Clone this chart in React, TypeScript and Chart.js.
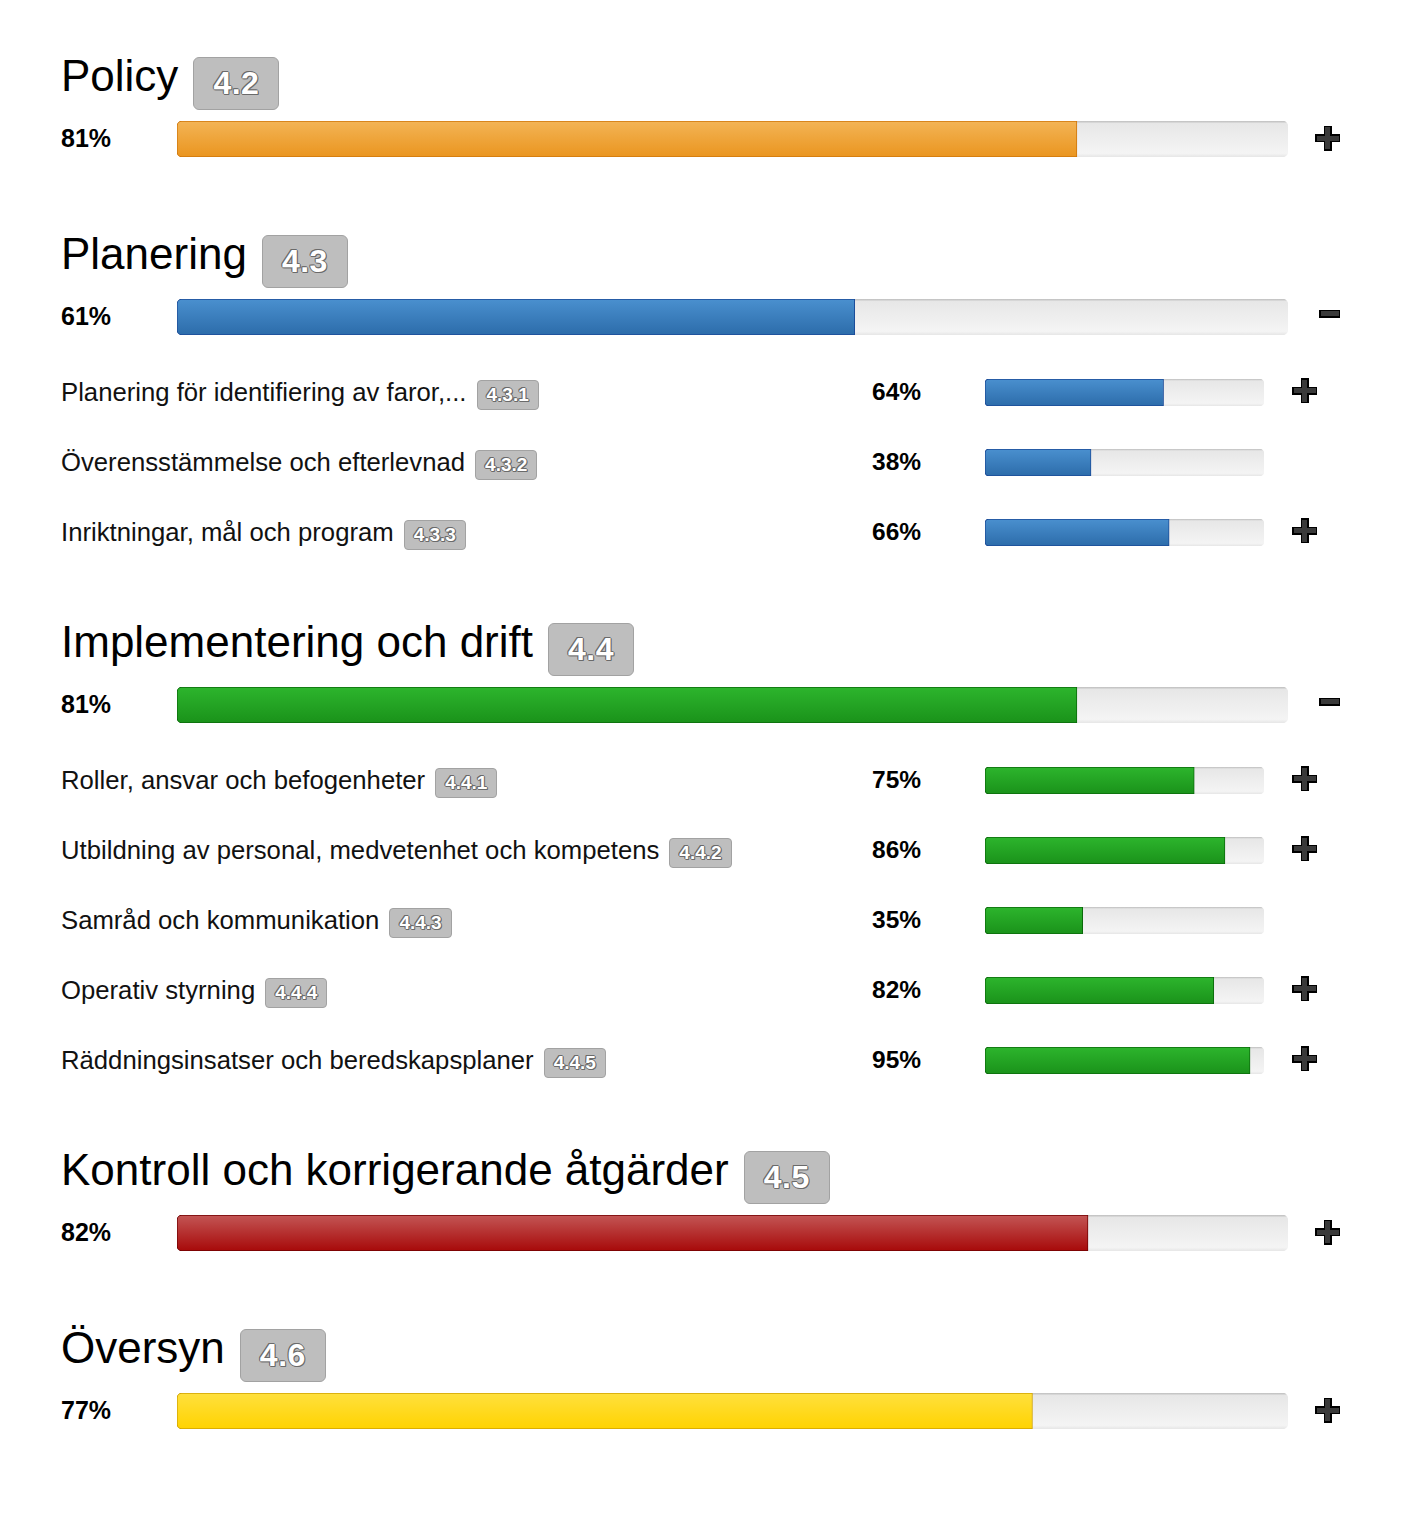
import React, { useEffect, useRef } from "react";
import Chart from "chart.js/auto";

// ---- data ----
const sectionTitles = [
  "Policy",
  "Planering",
  "Implementering och drift",
  "Kontroll och korrigerande åtgärder",
  "Översyn",
];
const sectionCodes = ["4.2", "4.3", "4.4", "4.5", "4.6"];
const sectionValues = [81, 61, 81, 82, 77];
const sectionToggles = ["plus", "minus", "minus", "plus", "plus"];

const subTitles = [
  "Planering för identifiering av faror,...",
  "Överensstämmelse och efterlevnad",
  "Inriktningar, mål och program",
  "Roller, ansvar och befogenheter",
  "Utbildning av personal, medvetenhet och kompetens",
  "Samråd och kommunikation",
  "Operativ styrning",
  "Räddningsinsatser och beredskapsplaner",
];
const subCodes = ["4.3.1", "4.3.2", "4.3.3", "4.4.1", "4.4.2", "4.4.3", "4.4.4", "4.4.5"];
const subValues = [64, 38, 66, 75, 86, 35, 82, 95];
const subSection = [1, 1, 1, 2, 2, 2, 2, 2];
const subToggles = ["plus", "", "plus", "plus", "plus", "", "plus", "plus"];
const axisMax = 100;

// ---- styles ----
const palettes = [
  { top: "#f3b456", bottom: "#ea951f", border: "#cf760a" },
  { top: "#4a90cf", bottom: "#2c6caa", border: "#1a4b98" },
  { top: "#2db52d", bottom: "#1a921a", border: "#0a6a0a" },
  { top: "#c35655", bottom: "#a70909", border: "#700000" },
  { top: "#ffe03e", bottom: "#ffd300", border: "#d0a200" },
];
const FONT = '"Liberation Sans", Arial, Helvetica, sans-serif';

function gradient(ctx: any, stops: [number, string][]) {
  const chart = ctx.chart;
  const a = chart.chartArea;
  if (!a) return stops[stops.length - 1][1];
  const g = chart.ctx.createLinearGradient(0, a.top, 0, a.bottom);
  stops.forEach(([o, c]) => g.addColorStop(o, c));
  return g;
}

function ProgressBar(props: {
  value: number;
  palette: { top: string; bottom: string; border: string };
  left: number;
  top: number;
  width: number;
  height: number;
  radius: number;
}) {
  const { value, palette, left, top, width, height, radius } = props;
  const ref = useRef<HTMLCanvasElement>(null);
  useEffect(() => {
    const canvas = ref.current!;
    const chart = new Chart(canvas, {
      type: "bar",
      data: {
        labels: [""],
        datasets: [
          {
            data: [value],
            order: 1,
            grouped: false,
            backgroundColor: (c: any) => gradient(c, [[0, palette.top], [1, palette.bottom]]),
            borderColor: palette.border,
            borderWidth: 1,
            borderSkipped: false,
            borderRadius: { topLeft: radius, bottomLeft: radius, topRight: 0, bottomRight: 0 },
            barPercentage: 1,
            categoryPercentage: 1,
          } as any,
          {
            data: [axisMax],
            order: 2,
            grouped: false,
            backgroundColor: (c: any) =>
              gradient(c, [
                [0, "#bdbdbd"],
                [0.07, "#e7e7e7"],
                [0.9, "#f4f4f4"],
                [1, "#e6e6e6"],
              ]),
            borderWidth: 0,
            borderSkipped: false,
            borderRadius: radius + 1,
            barPercentage: 1,
            categoryPercentage: 1,
          } as any,
        ],
      },
      options: {
        indexAxis: "y",
        responsive: false,
        animation: false,
        events: [],
        layout: { padding: 0 },
        plugins: { legend: { display: false }, tooltip: { enabled: false } },
        scales: {
          x: { display: false, min: 0, max: axisMax },
          y: { display: false },
        },
      } as any,
    });
    return () => chart.destroy();
  }, [value, palette, width, height, radius]);
  return (
    <canvas
      ref={ref}
      width={width}
      height={height}
      style={{ position: "absolute", left, top, width, height, display: "block" }}
    />
  );
}

function Badge(props: { text: string; big: boolean }) {
  const { text, big } = props;
  const h = big ? 53 : 30;
  const sh = "#6a6a6a";
  return (
    <span
      style={{
        display: "inline-block",
        boxSizing: "border-box",
        height: h,
        lineHeight: `${h - 2}px`,
        padding: big ? "0 19px" : "0 9px",
        background: "#bebebe",
        border: "1px solid #a2a2a2",
        borderRadius: big ? 6 : 4,
        color: "#fff",
        fontFamily: FONT,
        fontWeight: 700,
        fontSize: big ? 32 : 19,
        letterSpacing: big ? 0.5 : 0,
        textShadow: `1px 0 0 ${sh}, -1px 0 0 ${sh}, 0 1px 0 ${sh}, 0 -1px 0 ${sh}, 1px 1px 0 ${sh}, -1px -1px 0 ${sh}`,
        marginLeft: big ? 15 : 10,
        verticalAlign: "top",
      }}
    >
      {text}
    </span>
  );
}

function Toggle(props: { kind: string; cx: number; cy: number }) {
  const { kind, cx, cy } = props;
  if (!kind) return null;
  const rects: JSX.Element[] = [];
  const size = kind === "minus" ? 21 : 25;
  const th = 8;
  const parts =
    kind === "plus"
      ? [
          { w: size, h: th },
          { w: th, h: size },
        ]
      : [{ w: size, h: th }];
  parts.forEach((p, i) =>
    rects.push(
      <div
        key={"o" + i}
        style={{
          position: "absolute",
          left: cx - p.w / 2,
          top: cy - p.h / 2,
          width: p.w,
          height: p.h,
          background: "#000",
        }}
      />
    )
  );
  parts.forEach((p, i) =>
    rects.push(
      <div
        key={"i" + i}
        style={{
          position: "absolute",
          left: cx - p.w / 2 + 1.5,
          top: cy - p.h / 2 + 1.5,
          width: p.w - 3,
          height: p.h - 3,
          background: "#3a3a3a",
        }}
      />
    )
  );
  return <>{rects}</>;
}

export default function App() {
  const items: JSX.Element[] = [];
  let y = 57;
  sectionTitles.forEach((title, s) => {
    const badgeTop = y;
    const barTop = y + 64;
    items.push(
      <div
        key={"t" + s}
        style={{
          position: "absolute",
          left: 61,
          top: badgeTop,
          whiteSpace: "nowrap",
          display: "flex",
          alignItems: "flex-start",
        }}
      >
        <span
          style={{
            fontFamily: FONT,
            fontSize: 44,
            lineHeight: "44px",
            color: "#000",
            marginTop: -3,
          }}
        >
          {title}
        </span>
        <Badge text={sectionCodes[s]} big={true} />
      </div>
    );
    items.push(
      <div
        key={"p" + s}
        style={{
          position: "absolute",
          left: 61,
          top: barTop + 5,
          fontFamily: FONT,
          fontWeight: "bold",
          fontSize: 25,
          lineHeight: "25px",
          color: "#000",
        }}
      >
        {sectionValues[s]}%
      </div>
    );
    items.push(
      <ProgressBar
        key={"b" + s}
        value={sectionValues[s]}
        palette={palettes[s]}
        left={177}
        top={barTop}
        width={1111}
        height={36}
        radius={5}
      />
    );
    items.push(
      <Toggle
        key={"g" + s}
        kind={sectionToggles[s]}
        cx={sectionToggles[s] === "minus" ? 1329.5 : 1327.5}
        cy={sectionToggles[s] === "minus" ? barTop + 14.5 : barTop + 17}
      />
    );
    let last = barTop + 36;
    let gap = 78;
    let k = 0;
    subTitles.forEach((st, i) => {
      if (subSection[i] !== s) return;
      const sbTop = barTop + 80 + 70 * k;
      k++;
      items.push(
        <div
          key={"st" + i}
          style={{
            position: "absolute",
            left: 61,
            top: sbTop + 1,
            whiteSpace: "nowrap",
            display: "flex",
            alignItems: "flex-start",
          }}
        >
          <span
            style={{
              fontFamily: FONT,
              fontSize: 25.7,
              lineHeight: "26px",
              color: "#111",
              marginTop: -1,
            }}
          >
            {st}
          </span>
          <Badge text={subCodes[i]} big={false} />
        </div>
      );
      items.push(
        <div
          key={"sp" + i}
          style={{
            position: "absolute",
            left: 872,
            top: sbTop,
            fontFamily: FONT,
            fontWeight: "bold",
            fontSize: 24.5,
            lineHeight: "25px",
            color: "#000",
          }}
        >
          {subValues[i]}%
        </div>
      );
      items.push(
        <ProgressBar
          key={"sb" + i}
          value={subValues[i]}
          palette={palettes[s]}
          left={985}
          top={sbTop}
          width={279}
          height={27}
          radius={4}
        />
      );
      items.push(<Toggle key={"sg" + i} kind={subToggles[i]} cx={1304.5} cy={sbTop + 11.5} />);
      last = sbTop + 27;
      gap = 77;
    });
    y = last + gap;
  });

  return (
    <div
      style={{
        position: "absolute",
        left: 0,
        top: 0,
        width: 1417,
        height: 1513,
        background: "#fff",
        overflow: "hidden",
      }}
    >
      {items}
    </div>
  );
}
